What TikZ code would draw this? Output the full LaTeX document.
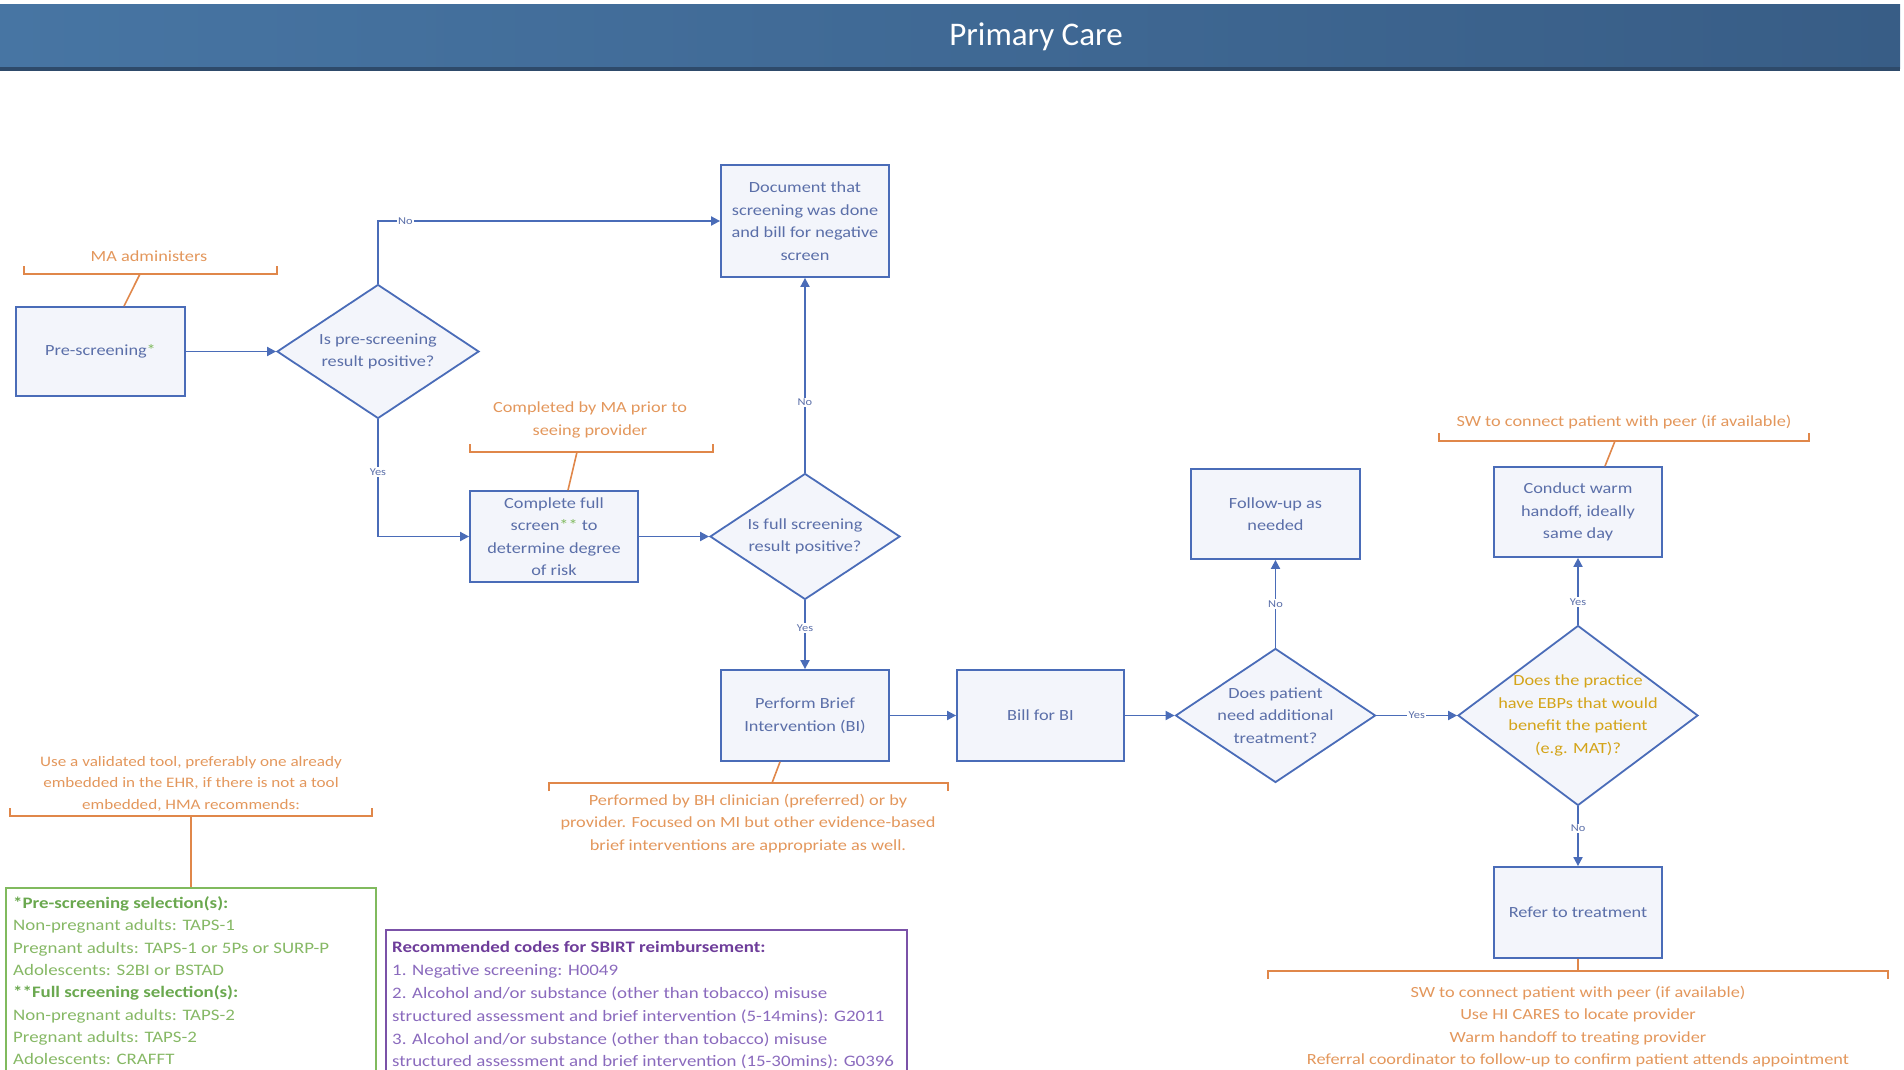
\documentclass[tikz,border=0pt]{standalone}
\usepackage{fontspec}
\setmainfont{Carlito}[FakeStretch=1.18]
\newfontfamily\titlefont{Carlito}
\usetikzlibrary{shapes.geometric,arrows.meta,calc}
\definecolor{banA}{HTML}{4775A3}
\definecolor{banB}{HTML}{385D86}
\definecolor{banS}{HTML}{2E4A6A}
\definecolor{boxblue}{HTML}{4A6CB8}
\definecolor{boxfill}{HTML}{F3F5FB}
\definecolor{txtblue}{HTML}{5B6FA9}
\definecolor{orline}{HTML}{E0874A}
\definecolor{ortext}{HTML}{E3975C}
\definecolor{grline}{HTML}{80BA5E}
\definecolor{grtext}{HTML}{86B865}
\definecolor{grbold}{HTML}{6AA84F}
\definecolor{puline}{HTML}{7B52A8}
\definecolor{putext}{HTML}{8A6ABD}
\definecolor{pubold}{HTML}{6E3D9A}
\definecolor{gold}{HTML}{D4A419}
\begin{document}
\begin{tikzpicture}[x=1pt,y=-1pt,
  box/.style={draw=boxblue,line width=1.8pt,fill=boxfill,text=txtblue,
    font=\fontsize{15.5}{22.5}\selectfont,align=center,inner sep=0pt},
  dia/.style={diamond,draw=boxblue,line width=1.8pt,fill=boxfill,inner sep=0pt},
  dtxt/.style={text=txtblue,font=\fontsize{15.5}{22.5}\selectfont,align=center,inner sep=0pt},
  arr/.style={draw=boxblue,line width=1.8pt,-{Triangle[length=9pt,width=9pt]}},
  lbl/.style={fill=white,text=txtblue,font=\fontsize{10.5}{12}\selectfont,inner sep=1.5pt},
  brk/.style={draw=orline,line width=1.6pt},
  note/.style={text=ortext,font=\fontsize{15.5}{22.3}\selectfont,align=center,inner sep=0pt},
  list/.style={font=\fontsize{16}{22.3}\selectfont,align=left,inner sep=0pt}
]
\useasboundingbox (0,0) rectangle (1904,1070);
% banner
\shade[left color=banA,right color=banB] (0,5) rectangle (1900,69);
\fill[banS] (0,67) rectangle (1900,71);
\node[text=white,font=\titlefont\fontsize{33}{36}\selectfont] (title) at (1036,37) {Primary Care};

% boxes
\node[box,minimum width=169pt,minimum height=89pt] (pre) at (100.5,351.5) {Pre-screening\textcolor{grline}{*}};
\node[box,minimum width=168pt,minimum height=112pt] (doc) at (805,221) {Document that\\screening was done\\and bill for negative\\screen};
\node[box,minimum width=168pt,minimum height=91pt] (full) at (554,536.5) {Complete full\\screen\textcolor{grline}{**} to\\determine degree\\of risk};
\node[box,minimum width=168pt,minimum height=91pt] (bi) at (805,715.5) {Perform Brief\\Intervention (BI)};
\node[box,minimum width=167pt,minimum height=91pt] (bill) at (1040.5,715.5) {Bill for BI};
\node[box,minimum width=169pt,minimum height=90pt] (fu) at (1275.5,514) {Follow-up as\\needed};
\node[box,minimum width=168pt,minimum height=90pt] (warm) at (1578,512) {Conduct warm\\handoff, ideally\\same day};
\node[box,minimum width=168pt,minimum height=91pt] (refer) at (1578,912.5) {Refer to treatment};

% diamonds
\node[dia,minimum width=202pt,minimum height=134pt] (d1) at (378,351.5) {};
\node[dtxt] (d1t) at (d1) {Is pre-screening\\result positive?};
\node[dia,minimum width=190pt,minimum height=126pt] (d2) at (805,536.5) {};
\node[dtxt] (d2t) at (d2) {Is full screening\\result positive?};
\node[dia,minimum width=200pt,minimum height=134pt] (d3) at (1275.5,715.5) {};
\node[dtxt] (d3t) at (d3) {Does patient\\need additional\\treatment?};
\node[dia,minimum width=240pt,minimum height=180pt] (d4) at (1578,715.5) {};
\node[dtxt,text=gold] (d4t) at (d4) {Does the practice\\have EBPs that would\\benefit the patient\\(e.g. MAT)?};

% connectors
\draw[arr] (pre) -- (d1);
\draw[arr] (d1.north) |- (doc.west) node[lbl,pos=0.54] {No};
\draw[arr] (d1.south) |- (full.west) node[lbl,pos=0.225] {Yes};
\draw[arr] (full) -- (d2);
\draw[arr] (d2.north) -- (doc.south) node[lbl,pos=0.36] {No};
\draw[arr] (d2.south) -- (bi.north) node[lbl,pos=0.4] {Yes};
\draw[arr] (bi) -- (bill);
\draw[arr] (bill) -- (d3);
\draw[arr] (d3.north) -- (fu.south) node[lbl,midway] {No};
\draw[arr] (d3) -- (d4) node[lbl,midway] {Yes};
\draw[arr] (d4.north) -- (warm.south) node[lbl,pos=0.34] {Yes};
\draw[arr] (d4.south) -- (refer.north) node[lbl,pos=0.37] {No};

% orange annotations
\node[note] (n1) at (149,256) {MA administers};
\draw[brk] (24,266) -- (24,274) -- (277,274) -- (277,266);
\coordinate (b1) at (140,274);
\draw[brk] (b1) -- ($(pre.north)+(23.5,0)$);

\node[note,anchor=north] (n2) at (590,402) {Completed by MA prior to\\seeing provider};
\draw[brk] (470,444) -- (470,452) -- (713,452) -- (713,444);
\coordinate (b2) at (577,452);
\draw[brk] (b2) -- ($(full.north)+(14,0)$);

\draw[brk] (549,791) -- (549,783) -- (948,783) -- (948,791);
\coordinate (b3) at (772,783);
\draw[brk] ($(bi.south)+(-25,0)$) -- (b3);
\node[note,anchor=north] (n3) at (748,794) {Performed by BH clinician (preferred) or by\\provider. Focused on MI but other evidence-based\\brief interventions are appropriate as well.};

\node[note] (n4) at (1624,422) {SW to connect patient with peer (if available)};
\draw[brk] (1439,433) -- (1439,441) -- (1809,441) -- (1809,433);
\coordinate (b4) at (1615,441);
\draw[brk] (b4) -- ($(warm.north)+(27,0)$);

\draw[brk] (1268,979) -- (1268,971) -- (1888,971) -- (1888,979);
\coordinate (b5) at (1578,971);
\draw[brk] (refer.south) -- (b5);
\node[note,anchor=north] (n5) at (1578,986) {SW to connect patient with peer (if available)\\Use HI CARES to locate provider\\Warm handoff to treating provider\\Referral coordinator to follow-up to confirm patient attends appointment};

\node[note,font=\fontsize{14.5}{21.5}\selectfont,anchor=north] (n6) at (191,756) {Use a validated tool, preferably one already\\embedded in the EHR, if there is not a tool\\embedded, HMA recommends:};
\draw[brk] (10,808) -- (10,816) -- (372,816) -- (372,808);
\coordinate (b6) at (191,816);
\coordinate (g6) at (191,888);
\draw[brk] (b6) -- (g6);

% green box
\draw[draw=grline,line width=1.8pt] (6,1072) -- (6,888) -- (376,888) -- (376,1072);
\node[list,text=grtext,anchor=north west] (glist) at (13,896.5) {%
\textcolor{grbold}{\textbf{*Pre-screening selection(s):}}\\
Non-pregnant adults: TAPS-1\\
Pregnant adults: TAPS-1 or 5Ps or SURP-P\\
Adolescents: S2BI or BSTAD\\
\textcolor{grbold}{\textbf{**Full screening selection(s):}}\\
Non-pregnant adults: TAPS-2\\
Pregnant adults: TAPS-2\\
Adolescents: CRAFFT};

% purple box
\draw[draw=puline,line width=1.8pt] (386,1072) -- (386,930) -- (907,930) -- (907,1072);
\node[list,text=putext,anchor=north west,font=\fontsize{16}{22.8}\selectfont] (plist) at (392,941.5) {%
\textcolor{pubold}{\textbf{Recommended codes for SBIRT reimbursement:}}\\
1. Negative screening: H0049\\
2. Alcohol and/or substance (other than tobacco) misuse\\
structured assessment and brief intervention (5-14mins): G2011\\
3. Alcohol and/or substance (other than tobacco) misuse\\
structured assessment and brief intervention (15-30mins): G0396};
\end{tikzpicture}
\end{document}
